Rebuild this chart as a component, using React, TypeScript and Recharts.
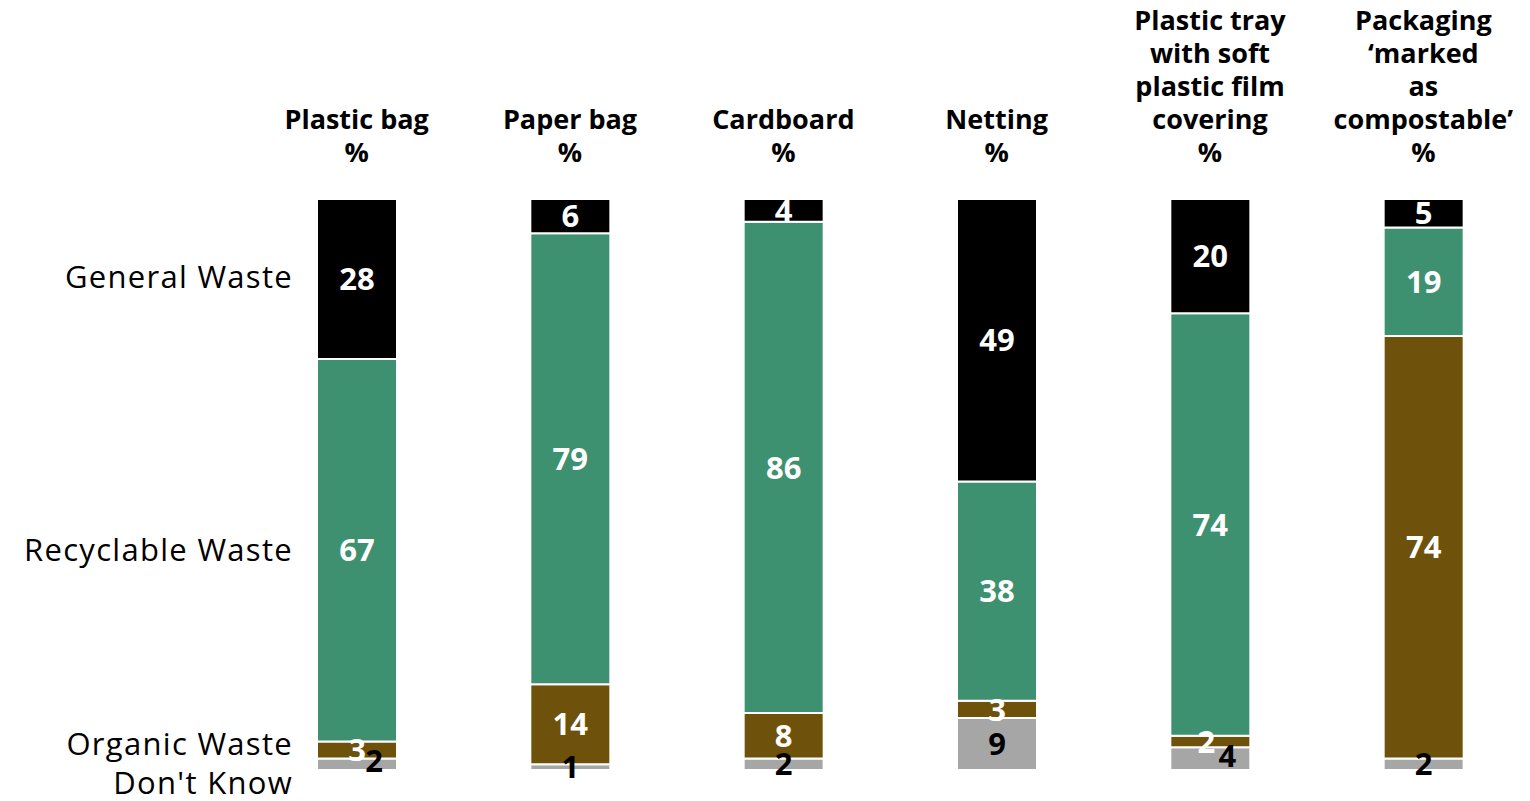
import React from 'react';
import { BarChart, Bar, XAxis, YAxis, LabelList } from 'recharts';

const categories = [
  'Plastic bag',
  'Paper bag',
  'Cardboard',
  'Netting',
  'Plastic tray\nwith soft\nplastic film\ncovering',
  'Packaging\n\u2018marked\nas\ncompostable\u2019',
];
const generalWaste = [28, 6, 4, 49, 20, 5];
const recyclableWaste = [67, 79, 86, 38, 74, 19];
const organicWaste = [3, 14, 8, 3, 2, 74];
const dontKnow = [2, 1, 2, 9, 4, 2];

const data = categories.map((name, i) => ({
  name,
  dk: dontKnow[i],
  organic: organicWaste[i],
  recyclable: recyclableWaste[i],
  general: generalWaste[i],
}));

const FONT = '"Open Sans", "DejaVu Sans", sans-serif';

function HeaderTick(props: any) {
  const { x, y, payload } = props;
  const lines = String(payload.value).split('\n').concat('%');
  const n = lines.length;
  return (
    <g>
      {lines.map((line: string, i: number) => (
        <text
          key={i}
          x={x}
          y={y - 37 - (n - 1 - i) * 33}
          textAnchor="middle"
          fontFamily={FONT}
          fontWeight="bold"
          fontSize={27}
          fill="#000"
        >
          {line}
        </text>
      ))}
    </g>
  );
}

function valueLabel(color: string, series: string) {
  return (props: any) => {
    const { x, y, width, height, value, index } = props;
    let cx = x + width / 2;
    let cy = y + height / 2;
    if (series === 'dk') {
      // small "don't know" labels sit to the right when the organic label is tiny too
      if (value <= 4 && organicWaste[index] <= 3) {
        cx += 17;
        cy -= 3;
      }
    }
    if (series === 'organic' && value <= 2) cx -= 4;
    return (
      <text
        x={cx}
        y={cy}
        dy="0.36em"
        textAnchor="middle"
        fontFamily={FONT}
        fontWeight="bold"
        fontSize={31}
        fill={color}
      >
        {value}
      </text>
    );
  };
}

function seriesName(name: string, nudge: number) {
  return (props: any) => {
    const { x, y, height, index } = props;
    if (index !== 0) return null;
    return (
      <text
        x={x - 24}
        y={y + height / 2 + nudge}
        dy="0.36em"
        textAnchor="end"
        fontFamily={FONT}
        fontSize={31}
        letterSpacing={1.3}
        fill="#000"
      >
        {name}
      </text>
    );
  };
}

export default function App() {
  return (
    <div style={{ position: 'absolute', left: 0, top: 0, width: 1530, height: 801, background: '#fff' }}>
      <BarChart
        width={1530}
        height={801}
        data={data}
        stackOffset="expand"
        margin={{ top: 0, right: 0, bottom: 31, left: 250 }}
        barSize={80}
      >
        <XAxis
          dataKey="name"
          orientation="top"
          height={199}
          axisLine={false}
          tickLine={false}
          tickSize={0}
          tickMargin={0}
          interval={0}
          tick={<HeaderTick />}
        />
        <YAxis hide domain={[0, 1]} />
        <Bar dataKey="dk" stackId="a" fill="#a6a6a6" stroke="#fff" strokeWidth={2} isAnimationActive={false}>
          <LabelList dataKey="dk" content={seriesName("Don't Know", 19)} />
          <LabelList dataKey="dk" content={valueLabel('#000', 'dk')} />
        </Bar>
        <Bar dataKey="organic" stackId="a" fill="#6e520c" stroke="#fff" strokeWidth={2} isAnimationActive={false}>
          <LabelList dataKey="organic" content={seriesName('Organic Waste', -6)} />
          <LabelList dataKey="organic" content={valueLabel('#fff', 'organic')} />
        </Bar>
        <Bar dataKey="recyclable" stackId="a" fill="#3e9170" stroke="#fff" strokeWidth={2} isAnimationActive={false}>
          <LabelList dataKey="recyclable" content={seriesName('Recyclable Waste', 0)} />
          <LabelList dataKey="recyclable" content={valueLabel('#fff', 'recyclable')} />
        </Bar>
        <Bar dataKey="general" stackId="a" fill="#000" stroke="#fff" strokeWidth={2} isAnimationActive={false}>
          <LabelList dataKey="general" content={seriesName('General Waste', -2)} />
          <LabelList dataKey="general" content={valueLabel('#fff', 'general')} />
        </Bar>
      </BarChart>
    </div>
  );
}
